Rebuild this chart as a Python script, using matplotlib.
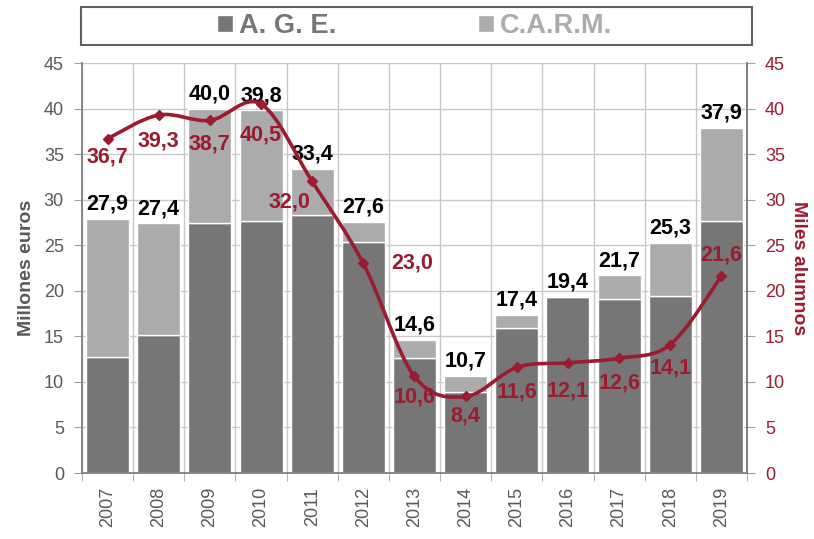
import numpy as np
import matplotlib.pyplot as plt
from matplotlib.path import Path
from matplotlib.patches import PathPatch, Rectangle

plt.rcParams['font.family'] = ['Liberation Sans', 'DejaVu Sans']

# ---- data ----
years = ['2007', '2008', '2009', '2010', '2011', '2012', '2013',
         '2014', '2015', '2016', '2017', '2018', '2019']
age = [12.7, 15.2, 27.4, 27.7, 28.3, 25.4, 12.6, 8.9, 15.9, 19.3, 19.1, 19.4, 27.7]
total = [27.9, 27.4, 40.0, 39.8, 33.4, 27.6, 14.6, 10.7, 17.4, 19.4, 21.7, 25.3, 37.9]
carm = [t - a for t, a in zip(total, age)]
alumnos = [36.7, 39.3, 38.7, 40.5, 32.0, 23.0, 10.6, 8.4, 11.6, 12.1, 12.6, 14.1, 21.6]

# label offsets (points) for the red labels
lab_off = [(0, -13), (0, -19), (0, -17), (0, -22), (-16, -15), (35, 0), (0, -15),
           (0, -14), (0, -18), (0, -20), (0, -18), (0, -17), (0, 15)]

dark = '#767676'
light = '#ABABAB'
red = '#9B1B30'
txt = '#595959'

fig = plt.figure(figsize=(8.14, 5.39), dpi=100)
ax = fig.add_axes([0.1007, 0.1224, 0.817, 0.7606])
x = np.arange(len(years))

ax.bar(x, age, width=0.84, color=dark, edgecolor='white', linewidth=1, zorder=2)
ax.bar(x, carm, bottom=age, width=0.84, color=light, edgecolor='white', linewidth=1, zorder=2)

for xi, t in zip(x, total):
    ax.annotate(f'{t:.1f}'.replace('.', ','), (xi, t), xytext=(0, 3), textcoords='offset points',
                ha='center', va='bottom', fontsize=15.5, fontweight='bold', color='black', zorder=5)

ax.set_xlim(-0.5, len(years) - 0.5)
ax.set_ylim(0, 45)
ax.set_yticks(range(0, 46, 5))
ax.set_xticks(x)
ax.set_xticklabels(years, rotation=90)
ax.set_xticks(np.arange(-0.5, len(years), 1), minor=True)
ax.tick_params(axis='x', which='major', length=0, labelsize=13, labelcolor=txt, pad=10)
ax.tick_params(axis='x', which='minor', length=6, color='#A0A0A0')
ax.tick_params(axis='y', length=6, labelsize=13, labelcolor=txt, color='#A0A0A0', pad=7)
ax.grid(axis='x', which='minor', color='#C8C8C8', lw=1, zorder=0)
ax.grid(axis='y', which='major', color='#C8C8C8', lw=1, zorder=0)
ax.set_axisbelow(True)
ax.set_ylabel('Millones euros', fontsize=14, fontweight='bold', color=txt, labelpad=6)
for s in ax.spines.values():
    s.set_color('#808080')
    s.set_linewidth(1.3)
ax.spines['top'].set_visible(False)

ax2 = ax.twinx()
ax2.set_ylim(0, 45)
ax2.set_yticks(range(0, 46, 5))
ax2.tick_params(axis='y', length=6, labelsize=13, labelcolor=red, color='#A0A0A0', pad=7)
ax2.set_ylabel('Miles alumnos', fontsize=14, fontweight='bold', color=red, rotation=270,
               labelpad=16)
for s in ax2.spines.values():
    s.set_visible(False)
ax2.spines['right'].set_visible(True)
ax2.spines['right'].set_color('#808080')
ax2.spines['right'].set_linewidth(1.3)

# smoothed line (catmull-rom style bezier through the points)
pts = np.column_stack([x, alumnos]).astype(float)
verts = [pts[0]]
codes = [Path.MOVETO]
n = len(pts)
for i in range(n - 1):
    p0 = pts[max(i - 1, 0)]
    p1 = pts[i]
    p2 = pts[i + 1]
    p3 = pts[min(i + 2, n - 1)]
    c1 = p1 + (p2 - p0) / 6
    c2 = p2 - (p3 - p1) / 6
    verts += [c1, c2, p2]
    codes += [Path.CURVE4] * 3
ax2.add_patch(PathPatch(Path(verts, codes), facecolor='none', edgecolor=red, lw=2.6,
                        capstyle='round', zorder=4))
ax2.plot(x, alumnos, ls='none', marker='D', ms=5, color=red, zorder=5)

for xi, v, off in zip(x, alumnos, lab_off):
    ax2.annotate(f'{v:.1f}'.replace('.', ','), (xi, v), xytext=off, textcoords='offset points',
                 ha='center', va='center', fontsize=15.5, fontweight='bold', color=red, zorder=6)

# legend box across the top
fig.patches.append(Rectangle((0.100, 0.9165), 0.824, 0.0705, transform=fig.transFigure,
                             facecolor='white', edgecolor='#606060', lw=1.5))
leg = fig.legend(handles=ax.containers, labels=['A. G. E.', 'C.A.R.M.'], loc='center',
                 bbox_to_anchor=(0.509, 0.952), ncol=2, frameon=False,
                 handlelength=0.6, handleheight=0.6, handletextpad=0.2, columnspacing=5.2,
                 prop={'size': 19.6, 'weight': 'bold'}, labelcolor=[dark, light])

fig.savefig('out.png', dpi=100)
